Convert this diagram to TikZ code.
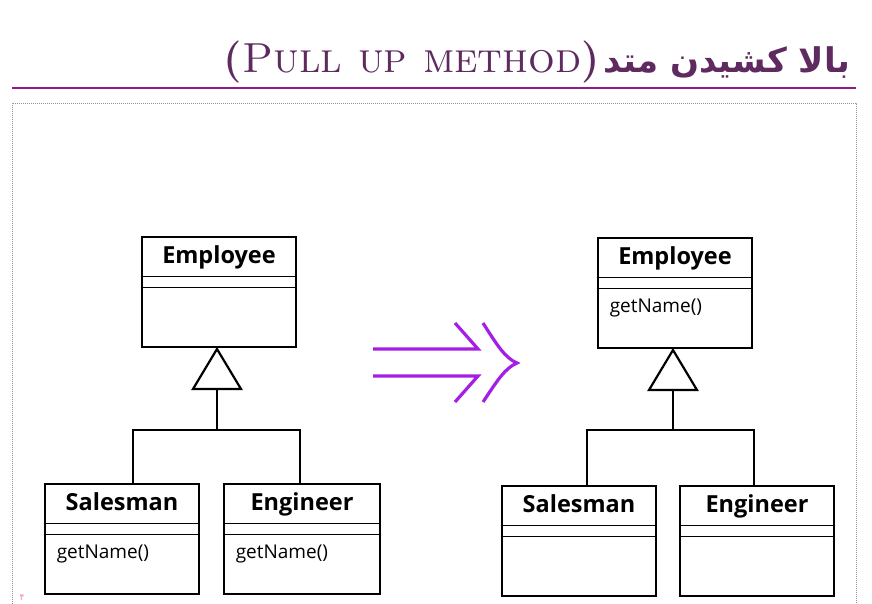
\documentclass[tikz,border=0pt]{standalone}
\usepackage{fontspec}
\TeXXeTstate=1
\newfontfamily\arabicfont[Script=Arabic]{DejaVu Sans}
\newfontfamily\boxfont{Open Sans}
\usetikzlibrary{calc}
\definecolor{titlecol}{HTML}{5E2A60}
\definecolor{rulecol}{HTML}{8E1B8E}
\definecolor{arrowcol}{HTML}{A51EE6}
\definecolor{numcol}{HTML}{E08AB0}
\tikzset{
  classbox/.style={draw=black, line width=2.8pt, minimum width=154pt, minimum height=110pt, inner sep=0pt},
  sepline/.style={draw=black, line width=1.4pt},
  conn/.style={draw=black, line width=2.2pt},
  cname/.style={font=\boxfont\bfseries\fontsize{23.5}{28}\selectfont, anchor=base, inner sep=0pt},
  cmeth/.style={font=\boxfont\fontsize{19}{23}\selectfont, anchor=base west, inner sep=0pt},
  bigarrow/.style={draw=arrowcol, line width=3.2pt},
}
\newcommand{\umlclass}[5]{% name, center, width, title, method
  \node[classbox, minimum width=#3] (#1) at (#2) {};
  \draw[sepline] ($(#1.north west)+(0,41)$) -- ($(#1.north east)+(0,41)$);
  \draw[sepline] ($(#1.north west)+(0,52)$) -- ($(#1.north east)+(0,52)$);
  \node[cname] (#1-t) at ($(#1.north)+(0,28)$) {#4};
  \node[cmeth] (#1-m) at ($(#1.north west)+(13,76)$) {#5};
}
\begin{document}
\begin{tikzpicture}[x=1pt,y=-1pt]
\useasboundingbox (0,0) rectangle (872,604);
\fill[white] (0,0) rectangle (872,604);
% frame
\draw[gray!85, line width=0.6pt, dash pattern=on 1pt off 1pt] (12,612) -- (12,103) -- (856,103) -- (856,612);
% title
\node[anchor=base east, inner sep=0pt, text=titlecol] (title) at (850,73)
  {\fontsize{42}{48}\selectfont\bfseries(\mdseries\textsc{Pull up method}\bfseries)\hspace{4pt}{\arabicfont\bfseries\fontsize{34}{40}\selectfont\beginR بالا کشیدن متد\endR}};
\draw[rulecol, line width=2pt] (12,88) -- (856,88);
% left diagram
\umlclass{e1}{219,292}{154pt}{Employee}{}
\umlclass{s1}{122,539}{154pt}{Salesman}{getName()}
\umlclass{g1}{302,539}{156pt}{Engineer}{getName()}
\coordinate (a1) at (217,349);
\coordinate (b1) at (217,389);
\coordinate (j1) at (217,430);
\draw[conn, line join=miter] (a1) -- ++(-24,40) -- ++(48,0) -- cycle;
\draw[conn] (b1) -- (j1);
\draw[conn] (s1.north -| 133,0) |- (j1) -| (g1.north -| 300,0);
% arrow
\coordinate (h1s) at (373,349); \coordinate (h1e) at (478,349);
\coordinate (h2s) at (373,376); \coordinate (h2e) at (478,376);
\draw[bigarrow] (h1s) -- (h1e) -- (455,323);
\draw[bigarrow] (h2s) -- (h2e) -- (455,402);
\draw[bigarrow] (483,323) .. controls (497,345) and (505,358) .. (517,363) .. controls (505,368) and (497,381) .. (483,402);
% right diagram
\umlclass{e2}{675,293}{154pt}{Employee}{getName()}
\umlclass{s2}{579,541}{154pt}{Salesman}{}
\umlclass{g2}{757,541}{154pt}{Engineer}{}
\coordinate (a2) at (673,350);
\coordinate (b2) at (673,390);
\coordinate (j2) at (673,430);
\draw[conn, line join=miter] (a2) -- ++(-24,40) -- ++(48,0) -- cycle;
\draw[conn] (b2) -- (j2);
\draw[conn] (s2.north -| 587,0) |- (j2) -| (g2.north -| 754,0);
% slide number
\node[text=numcol, font=\arabicfont\fontsize{9}{10}\selectfont, inner sep=0pt] (num) at (22,598) {۴};
\end{tikzpicture}
\end{document}
